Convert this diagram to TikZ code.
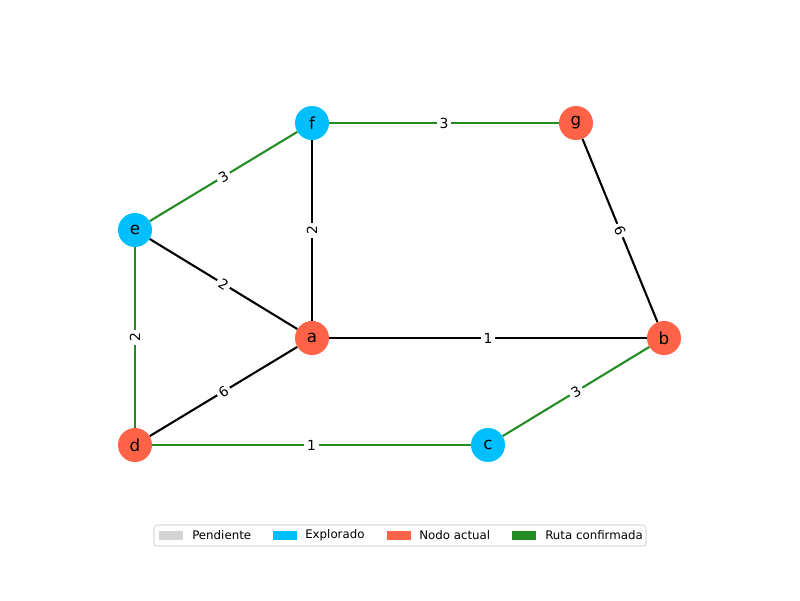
\documentclass[tikz,border=0pt]{standalone}
\usepackage{fontspec}
\setmainfont{DejaVu Sans}
\definecolor{explblue}{HTML}{00BFFF}
\definecolor{curred}{HTML}{FF6347}
\definecolor{routegreen}{HTML}{228B22}
\definecolor{pendgray}{HTML}{D3D3D3}
\begin{document}
\begin{tikzpicture}[x=0.72pt,y=-0.72pt,
  vtx/.style={circle,minimum size=24.5pt,inner sep=0pt,font=\fontsize{12}{14}\selectfont},
  expl/.style={vtx,fill=explblue},
  cur/.style={vtx,fill=curred},
  edge/.style={line width=1.5pt,black},
  redge/.style={line width=1.5pt,routegreen},
  wlab/.style={sloped,fill=white,text=black,inner sep=2pt,font=\fontsize{10}{12}\selectfont},
  patch/.style={minimum width=24*0.72pt,minimum height=8.6*0.72pt,inner sep=0pt},
  legtxt/.style={anchor=west,inner sep=0pt,font=\fontsize{8.5}{10}\selectfont}]
\useasboundingbox (0,0) rectangle (800,600);
\node[expl] (f) at (312,123) {f};
\node[cur] (g) at (576,123) {g};
\node[expl] (e) at (135,230) {e};
\node[cur] (a) at (312,338) {a};
\node[cur] (b) at (664,338) {b};
\node[cur] (d) at (135,445) {d};
\node[expl] (c) at (488,445) {c};
\draw[redge] (f) -- node[wlab]{3} (g);
\draw[redge] (e) -- node[wlab]{3} (f);
\draw[edge] (a) -- node[wlab]{2} (f);
\draw[edge] (e) -- node[wlab]{2} (a);
\draw[redge] (d) -- node[wlab]{2} (e);
\draw[edge] (d) -- node[wlab]{6} (a);
\draw[edge] (a) -- node[wlab]{1} (b);
\draw[edge] (g) -- node[wlab]{6} (b);
\draw[redge] (c) -- node[wlab]{3} (b);
\draw[redge] (d) -- node[wlab]{1} (c);
% legend
\draw[rounded corners=2pt,draw=pendgray!80,fill=white,line width=0.8pt] (154,525) rectangle (646,546);
\node[patch,fill=pendgray] (p1) at (171,535.5) {};
\node[legtxt] (t1) at (192,535.5) {Pendiente};
\node[patch,fill=explblue] (p2) at (285,535.5) {};
\node[legtxt] (t2) at (305,535.5) {Explorado};
\node[patch,fill=curred] (p3) at (399,535.5) {};
\node[legtxt] (t3) at (419,535.5) {Nodo actual};
\node[patch,fill=routegreen] (p4) at (524,535.5) {};
\node[legtxt] (t4) at (545,535.5) {Ruta confirmada};
\end{tikzpicture}
\end{document}
